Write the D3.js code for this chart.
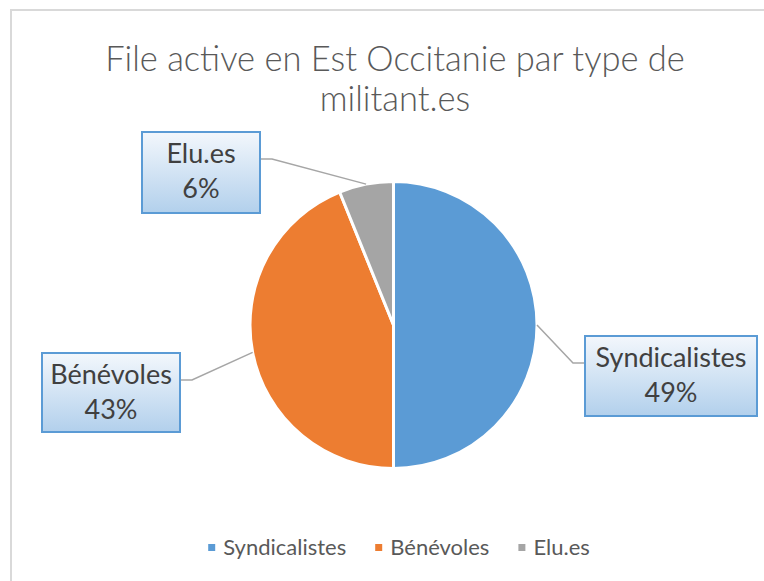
<!DOCTYPE html>
<html>
<head>
<meta charset="utf-8">
<script src="https://cdn.jsdelivr.net/npm/d3@7"></script>
<style>
  body { margin: 0; background: #fff; }
  svg { display: block; }
</style>
</head>
<body>
<div></div>
<script>
const categories = ['Syndicalistes', 'Bénévoles', 'Elu.es'];
const values = [49, 43, 6];
const pctLabels = ['49%', '43%', '6%'];
const titleLines = ['File active en Est Occitanie par type de', 'militant.es'];

const colors = ['#5B9BD5', '#ED7D31', '#A5A5A5'];
const fontFam = 'Lato, "Open Sans", sans-serif';

const svgWidth = 764,
	svgHeight = 581;
const cx = 393.5,
	cy = 325,
	radius = 143.5;

// callout boxes: left, top, width, height, and elbow of the leader line
const boxes = [
	{ x: 585, y: 336, w: 172, h: 80, side: 'left' },
	{ x: 42, y: 353, w: 138, h: 79, side: 'right' },
	{ x: 142, y: 132, w: 118, h: 81, side: 'right' }
];

const svg = d3.select('body')
	.select('div')
	.append('svg')
	.attr('width', svgWidth)
	.attr('height', svgHeight);

const defs = svg.append('defs');
const grad = defs.append('linearGradient')
	.attr('id', 'boxgrad')
	.attr('x1', 0).attr('y1', 0)
	.attr('x2', 0).attr('y2', 1);
grad.append('stop').attr('offset', '0%').attr('stop-color', '#F3F7FC');
grad.append('stop').attr('offset', '100%').attr('stop-color', '#B2D0EC');

// chart frame (cropped on right and bottom)
svg.append('rect')
	.attr('x', 11)
	.attr('y', 10)
	.attr('width', 900)
	.attr('height', 900)
	.attr('fill', 'none')
	.attr('stroke', '#D9D9D9')
	.attr('stroke-width', 2);

// shrink/grow a text to a target width
function fitText(sel, target) {
	sel.style('font-size', '100px');
	const w = sel.node().getComputedTextLength();
	sel.style('font-size', (100 * target / w) + 'px');
}

// title
const title = svg.append('g');
titleLines.forEach((t, i) => {
	const tx = title.append('text')
		.attr('x', 395)
		.attr('y', 71 + i * 40)
		.attr('text-anchor', 'middle')
		.attr('fill', '#595959')
		.style('font-family', fontFam)
		.style('font-weight', 300)
		.text(t);
	if (i === 0) fitText(tx, 580);
});
const titleSize = title.select('text').style('font-size');
title.selectAll('text').style('font-size', titleSize);

// pie
const pie = d3.pie().sort(null).value(d => d)(values);
const arc = d3.arc().innerRadius(0).outerRadius(radius);
const outer = d3.arc().innerRadius(radius).outerRadius(radius);

const g = svg.append('g').attr('transform', `translate(${cx}, ${cy})`);
g.selectAll('path')
	.data(pie)
	.enter()
	.append('path')
	.attr('d', arc)
	.attr('fill', (d, i) => colors[i])
	.attr('stroke', '#fff')
	.attr('stroke-width', 3)
	.attr('stroke-linejoin', 'round');

// leader lines
pie.forEach((d, i) => {
	const b = boxes[i];
	const [ox, oy] = outer.centroid(d);
	const ey = b.y + 27;
	const ex = b.side === 'left' ? b.x - 12 : b.x + b.w + 12;
	const bx = b.side === 'left' ? b.x : b.x + b.w;
	svg.append('polyline')
		.attr('points', `${cx + ox},${cy + oy} ${ex},${ey} ${bx},${ey}`)
		.attr('fill', 'none')
		.attr('stroke', '#A6A6A6')
		.attr('stroke-width', 1.5);
});

// callout boxes
let labelSize = null;
boxes.forEach((b, i) => {
	svg.append('rect')
		.attr('x', b.x)
		.attr('y', b.y)
		.attr('width', b.w)
		.attr('height', b.h)
		.attr('fill', 'url(#boxgrad)')
		.attr('stroke', '#5B9BD5')
		.attr('stroke-width', 2);
	const t1 = svg.append('text')
		.attr('class', 'lbl')
		.attr('x', b.x + b.w / 2)
		.attr('y', b.y + 31)
		.attr('text-anchor', 'middle')
		.attr('fill', '#404040')
		.style('font-family', fontFam)
		.text(categories[i]);
	if (i === 0) {
		fitText(t1, 151);
		labelSize = t1.style('font-size');
	}
	svg.append('text')
		.attr('class', 'lbl')
		.attr('x', b.x + b.w / 2)
		.attr('y', b.y + 66)
		.attr('text-anchor', 'middle')
		.attr('fill', '#404040')
		.style('font-family', fontFam)
		.text(pctLabels[i]);
});
svg.selectAll('.lbl').style('font-size', labelSize);

// legend
const legend = svg.append('g');
const items = legend.selectAll('g')
	.data(categories)
	.enter()
	.append('g');
items.append('rect')
	.attr('width', 7)
	.attr('height', 7)
	.attr('y', -4)
	.attr('fill', (d, i) => colors[i]);
const legTexts = items.append('text')
	.attr('x', 15)
	.attr('y', 7)
	.attr('fill', '#595959')
	.style('font-family', fontFam)
	.text(d => d);
fitText(d3.select(legTexts.nodes()[0]), 123);
const legSize = d3.select(legTexts.nodes()[0]).style('font-size');
legTexts.style('font-size', legSize);

let xPos = 0;
const widths = legTexts.nodes().map(n => n.getComputedTextLength());
items.attr('transform', (d, i) => {
	const x = xPos;
	xPos += 15 + widths[i] + 29;
	return `translate(${x}, 0)`;
});
const total = xPos - 29;
legend.attr('transform', `translate(${399 - total / 2}, 548)`);
</script>
</body>
</html>
